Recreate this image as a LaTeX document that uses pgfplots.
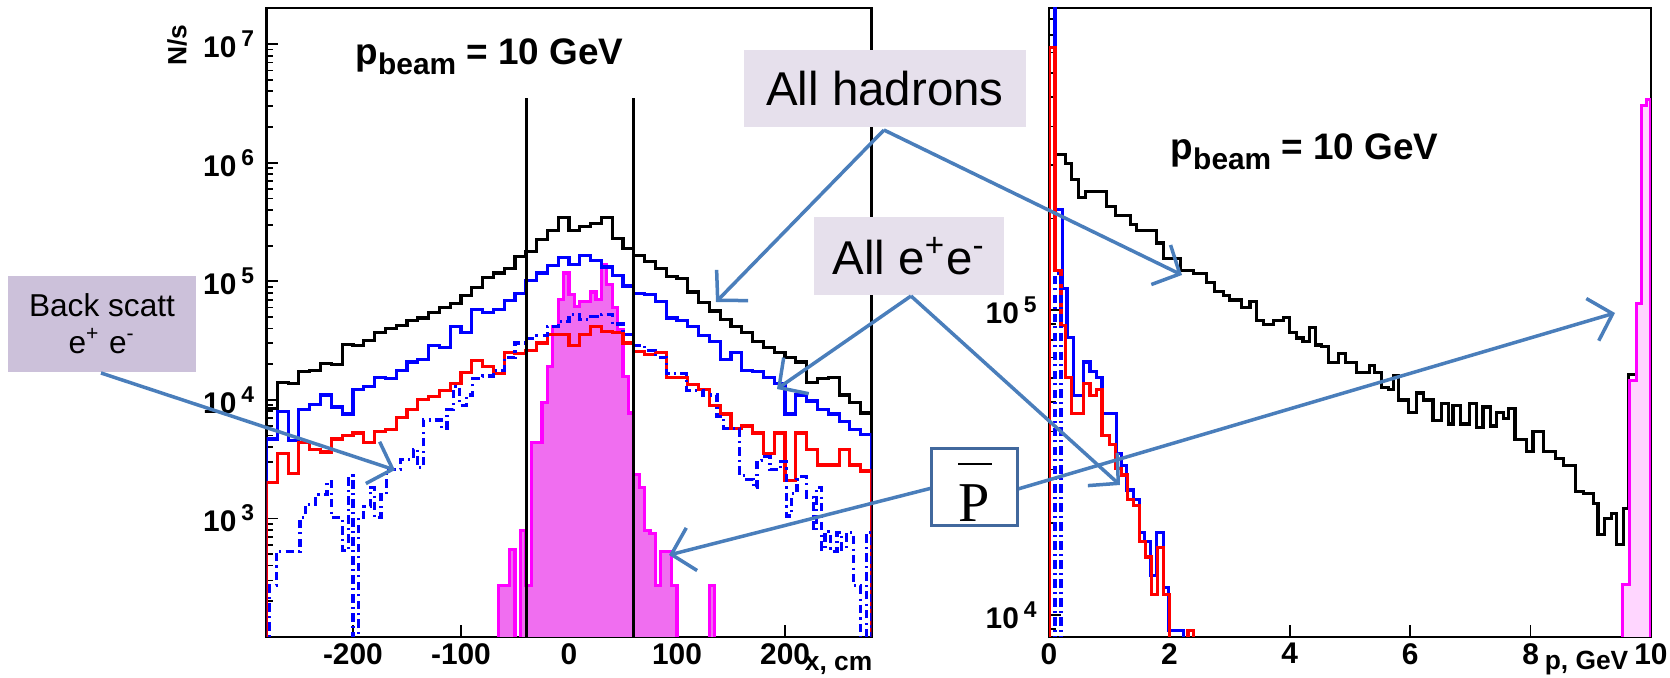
\documentclass[border=0pt]{standalone}
\usepackage{pgfplots}
\pgfplotsset{compat=1.18}
\usepackage{fontspec}
\setmainfont{Liberation Sans}
\newfontfamily\serifP{Liberation Serif}
\usetikzlibrary{arrows.meta}
\definecolor{arrowblue}{HTML}{4A7EBB}
\definecolor{boxlav}{HTML}{E6E0EC}
\definecolor{boxlavdark}{HTML}{CCC1DA}
\definecolor{pbarframe}{HTML}{41689D}
\definecolor{mag}{RGB}{255,0,255}
\definecolor{magfill}{RGB}{240,110,240}
\definecolor{magfilllight}{RGB}{255,214,255}
\definecolor{rblue}{RGB}{0,0,255}
\definecolor{rred}{RGB}{255,0,0}
\newcommand{\tl}[1]{\textbf{10}\,\raisebox{0.7ex}{\fontsize{6.5}{7}\selectfont\bfseries #1}}
\newcommand{\pbeam}{p\raisebox{-0.5ex}{\fontsize{8.5}{9}\selectfont beam}\ = 10 GeV}
\begin{document}
\begin{tikzpicture}
\useasboundingbox (0,0) rectangle (167mm,67.8mm);
% ---------------- left panel ----------------
\begin{axis}[scale only axis, ymode=log, tick align=inside, xtick pos=bottom, ytick pos=left,
 major tick length=1.2mm, minor tick length=0.65mm,
 axis line style={line width=0.6pt}, every tick/.style={black, line width=0.5pt},
 tick label style={font=\fontsize{8.5}{10}\selectfont\bfseries},
 xticklabel style={yshift=0.6mm},
 at={(26.65mm,4.1mm)}, anchor=south west, width=60.5mm, height=62.9mm,
 xmin=-280, xmax=280, ymin=100, ymax=2.02e7,
 xtick={-200,-100,0,100,200}, xticklabels={-200,-100,0,100,200},
 ytick={100,1000,10000,100000,1000000,10000000},
 yticklabels={,\tl{3},\tl{4},\tl{5},\tl{6},\tl{7}},
 minor ytick={200,300,400,500,600,700,800,900,2000,3000,4000,5000,6000,7000,8000,9000,
  20000,30000,40000,50000,60000,70000,80000,90000,200000,300000,400000,500000,600000,700000,800000,900000,
  2000000,3000000,4000000,5000000,6000000,7000000,8000000,9000000,20000000}]
% antiproton (magenta, filled)
\addplot[const plot, line width=0.9pt, draw=mag, fill=magfill] coordinates {
(-65,270) (-60,270) (-55,550) (-50,1) (-45,794) (-40,270) (-35,4370) (-30,4370) (-25,9550)
(-20,19100) (-15,41700) (-10,70800) (-5,117500) (0,77600) (5,61700) (10,67600) (15,67600)
(20,81300) (25,70800) (30,138000) (35,93300) (40,60300) (45,38900) (50,15800) (55,7760)
(60,2340) (65,1820) (70,794) (75,741) (80,270) (85,525) (90,525) (95,270) (100,1) (130,270) (135,1)} \closedcycle;
% all hadrons
\addplot[const plot, line width=0.9pt, black] coordinates {
(-280,1) (-280,8500) (-270,14100) (-260,13800) (-250,17400) (-240,17800) (-230,20400) (-220,20000)
(-210,29500) (-200,28800) (-190,31600) (-180,37200) (-170,39800) (-160,42700) (-150,46800)
(-140,49000) (-130,55000) (-120,60300) (-110,64600) (-100,75900) (-90,89100) (-80,107000)
(-70,117500) (-60,128800) (-50,162000) (-40,178000) (-30,224000) (-20,269000) (-10,347000)
(0,269000) (10,288000) (20,309000) (30,347000) (40,229000) (50,190500) (60,166000) (70,148000)
(80,129000) (90,110000) (100,105000) (110,81300) (120,66100) (130,56200) (140,47900) (150,41700)
(160,37200) (170,30900) (180,27500) (190,25100) (200,22900) (210,20900) (220,14100) (230,15100)
(240,15500) (250,11000) (260,9550) (270,7760) (280,7760) (280,1)};
% all e+e-
\addplot[const plot, line width=0.9pt, rblue] coordinates {
(-280,1) (-280,4680) (-270,7940) (-260,4570) (-250,8320) (-240,9120) (-230,11000) (-220,8710)
(-210,7590) (-200,12300) (-190,12900) (-180,15500) (-170,15100) (-160,17800) (-150,20900)
(-140,21900) (-130,28800) (-120,27500) (-110,41700) (-100,37200) (-90,57500) (-80,55000)
(-70,57500) (-60,69200) (-50,79400) (-40,102000) (-30,117500) (-20,135000) (-10,158500)
(0,138000) (10,166000) (20,151000) (30,132000) (40,112000) (50,91200) (60,79400) (70,77600)
(80,67600) (90,49000) (100,46800) (110,41700) (120,34700) (130,30900) (140,21900) (150,25100)
(160,17800) (170,17400) (180,15500) (190,13800) (200,7590) (210,11000) (220,9770) (230,8320)
(240,7590) (250,6610) (260,5620) (270,5130) (280,5130) (280,1)};
% red
\addplot[const plot, line width=0.9pt, rred] coordinates {
(-280,1) (-280,2000) (-270,3550) (-260,2400) (-250,4370) (-240,3800) (-230,3630) (-220,4680)
(-210,5010) (-200,5250) (-190,4370) (-180,5370) (-170,5620) (-160,7080) (-150,8320) (-140,10000)
(-130,10700) (-120,12000) (-110,13800) (-100,17000) (-90,21400) (-80,19100) (-70,16600)
(-60,25100) (-50,24500) (-40,26300) (-30,30200) (-20,35500) (-10,35500) (0,28800) (10,35500)
(20,41700) (30,38000) (40,37200) (50,30200) (60,25700) (70,24000) (80,25100) (90,15500)
(100,15500) (110,13500) (120,12300) (130,8910) (140,7590) (150,5750) (160,6030) (170,5250)
(180,3550) (190,5250) (200,2090) (210,5250) (220,3800) (230,2820) (240,2820) (250,3800)
(260,2820) (270,2510) (280,2510) (280,1)};
% back scattered e+e- (dashed)
\addplot[const plot, line width=0.9pt, rblue, dash pattern=on 2.4pt off 1.2pt on 0.6pt off 1.2pt] coordinates {
(-280,1) (-277,270) (-271,525) (-249,1020) (-244,1320) (-235,1580) (-224,2040) (-220,1020)
(-210,540) (-204,2290) (-200,1) (-195,1020) (-190,1260) (-184,1820) (-180,1020) (-174,1580)
(-169,2570) (-156,3160) (-144,3800) (-140,2690) (-135,6760) (-118,5750) (-113,8320) (-107,12900)
(-101,8910) (-95,11000) (-89,15100) (-80,15900) (-70,17800) (-60,22900) (-50,30200) (-40,33100)
(-30,34700) (-20,41700) (-10,45700) (0,52500) (10,47900) (20,50100) (30,52500) (40,43700)
(50,35500) (60,28800) (70,26300) (80,22900) (90,16600) (109,12000) (124,11000) (137,7240)
(143,5750) (158,2290) (164.5,2140) (171,1820) (174,3090) (178.5,3310) (186,2570) (195.5,3020)
(201.5,1050) (206,1620) (211,2140) (215.5,2240) (220,1510) (226,794) (229,1820) (234,550)
(237,776) (242,525) (248,759) (252.5,550) (257,759) (263,270) (269.5,1) (275.5,759) (280,759) (280,1)};
% vertical marker lines
\addplot[black, line width=0.8pt] coordinates {(-39,100) (-39,3.5e6)};
\addplot[black, line width=0.8pt] coordinates {(60,100) (60,3.5e6)};
\end{axis}
% ---------------- right panel ----------------
\begin{axis}[scale only axis, ymode=log, tick align=inside, xtick pos=bottom, ytick pos=left,
 major tick length=1.2mm, minor tick length=0.65mm,
 axis line style={line width=0.6pt}, every tick/.style={black, line width=0.5pt},
 tick label style={font=\fontsize{8.5}{10}\selectfont\bfseries},
 xticklabel style={yshift=0.6mm},
 at={(104.9mm,4.1mm)}, anchor=south west, width=60.2mm, height=62.9mm,
 xmin=0, xmax=10, ymin=8470, ymax=9.8e5,
 xtick={0,2,4,6,8,10}, xticklabels={0,2,4,6,8,10},
 ytick={10000,100000}, yticklabels={\tl{4},\tl{5}},
 minor ytick={9000,20000,30000,40000,50000,60000,70000,80000,90000,
  200000,300000,400000,500000,600000,700000,800000,900000}]
\addplot[const plot, line width=0.9pt, black] coordinates {
(0,2e6) (0.1,324000) (0.27,302000) (0.38,269000) (0.49,234000) (0.6,245000) (0.96,219000)
(1.1,204000) (1.35,190500) (1.45,182000) (1.79,166000) (1.9,148000) (2.18,135000) (2.4,132000)
(2.62,123000) (2.75,115000) (2.9,112000) (3.0,108000) (3.2,102000) (3.34,106500) (3.45,92300)
(3.56,89900) (3.73,92300) (3.89,94700) (4.0,84200) (4.11,81000) (4.22,78900) (4.33,87500)
(4.42,76900) (4.53,75900) (4.64,67500) (4.81,72100) (4.92,67500) (5.11,62400) (5.33,65800)
(5.41,62400) (5.53,55600) (5.64,54800) (5.72,60800) (5.80,50700) (5.97,46300) (6.11,53500)
(6.22,50700) (6.38,43400) (6.52,49400) (6.63,42300) (6.71,48800) (6.83,42300) (6.99,49400)
(7.10,41100) (7.21,48100) (7.33,41700) (7.44,46300) (7.55,44000) (7.63,47500) (7.74,37600)
(7.93,34300) (8.04,40100) (8.21,34300) (8.41,32600) (8.54,30900) (8.74,25400) (8.88,25100)
(9.04,23200) (9.12,18400) (9.23,20700) (9.35,21500) (9.43,17000) (9.54,22300) (9.62,61700)
(9.76,105000) (9.84,468000) (9.93,490000) (10,490000)};
\addplot[const plot, line width=0.9pt, rblue] coordinates {
(0,2e6) (0.1,214000) (0.22,117500) (0.3,81300) (0.41,52500) (0.57,67600) (0.68,63100)
(0.79,60300) (0.88,45700) (1.12,33900) (1.21,30900) (1.29,25700) (1.4,24000) (1.51,18600)
(1.59,17400) (1.68,13500) (1.79,18600) (1.9,12300) (1.98,8910) (2.23,1000) (2.31,8910)
(2.4,1000) (10,1000)};
\addplot[const plot, line width=0.9pt, rred] coordinates {
(0,1) (0,726000) (0.1,135000) (0.2,89100) (0.27,60300) (0.38,45700) (0.57,57500) (0.68,52500)
(0.79,55000) (0.88,38900) (1.0,36300) (1.1,30200) (1.2,28800) (1.3,24000) (1.4,22900)
(1.5,17400) (1.6,15500) (1.7,11700) (1.8,16600) (1.9,11700) (2.0,1000) (2.31,8910) (2.4,1000) (10,1000)};
\addplot[const plot, line width=0.9pt, rblue, dash pattern=on 2.4pt off 1.2pt on 0.6pt off 1.2pt] coordinates {(0,1) (0.1,132000) (0.2,1) (10,1)};
\addplot[const plot, line width=0.9pt, draw=mag, fill=magfilllight] coordinates {
(9.52,12600) (9.64,58900) (9.76,105000) (9.84,468000) (9.93,490000) (10,490000)} \closedcycle;
\end{axis}
% ---------------- texts ----------------
\node[rotate=90, anchor=east, font=\fontsize{7.5}{9}\selectfont\bfseries] at (17.7mm,66.6mm) {N/s};
\node[anchor=base west, inner sep=0pt, font=\fontsize{10.5}{12}\selectfont\bfseries] at (35.5mm,61.3mm) {\pbeam};
\node[anchor=base west, inner sep=0pt, font=\fontsize{10.5}{12}\selectfont\bfseries] at (117.0mm,51.8mm) {\pbeam};
\node[anchor=south east, font=\fontsize{7.5}{9}\selectfont\bfseries, inner sep=0pt] at (87.3mm,0.25mm) {x, cm};
\node[anchor=south east, font=\fontsize{7.5}{9}\selectfont\bfseries, inner sep=0pt] at (162.9mm,0.25mm) {p, GeV};
% ---------------- annotation boxes ----------------
\fill[boxlav] (74.4mm,62.8mm) rectangle (102.6mm,55.1mm);
\node[font=\fontsize{13.5}{15}\selectfont] at (88.5mm,58.95mm) {All hadrons};
\fill[boxlav] (81.4mm,46.1mm) rectangle (100.4mm,38.3mm);
\node[font=\fontsize{13.5}{15}\selectfont] at (90.9mm,42.2mm) {All e\textsuperscript{+}e\textsuperscript{-}};
\fill[boxlavdark] (0.8mm,40.2mm) rectangle (19.6mm,30.6mm);
\node[font=\fontsize{9}{10.5}\selectfont, align=center] at (10.2mm,35.4mm) {Back scatt\\e\textsuperscript{+} e\textsuperscript{-}};
% ---------------- arrows ----------------
\begin{scope}[arrowblue, line width=0.35mm, -{Straight Barb[length=2.1mm,width=4.4mm]}]
\draw (88.4mm,54.8mm) -- (71.6mm,37.6mm);
\draw (88.4mm,54.8mm) -- (118.2mm,40.3mm);
\draw (91.1mm,38.2mm) -- (77.7mm,28.9mm);
\draw (91.1mm,38.2mm) -- (112.0mm,19.3mm);
\draw (10.1mm,30.5mm) -- (39.5mm,20.8mm);
\draw (93.2mm,19.0mm) -- (66.9mm,12.3mm);
\draw (101.8mm,18.9mm) -- (161.5mm,36.5mm);
\end{scope}
% ---------------- P-bar box ----------------
\draw[pbarframe, line width=0.33mm, fill=white] (93.15mm,22.95mm) rectangle (101.75mm,15.25mm);
\node[anchor=base, font=\serifP\fontsize{16}{18}\selectfont, inner sep=0pt] at (97.45mm,15.6mm) {P};
\draw[black, line width=0.2mm] (95.8mm,21.4mm) -- (99.2mm,21.4mm);
\end{tikzpicture}
\end{document}
